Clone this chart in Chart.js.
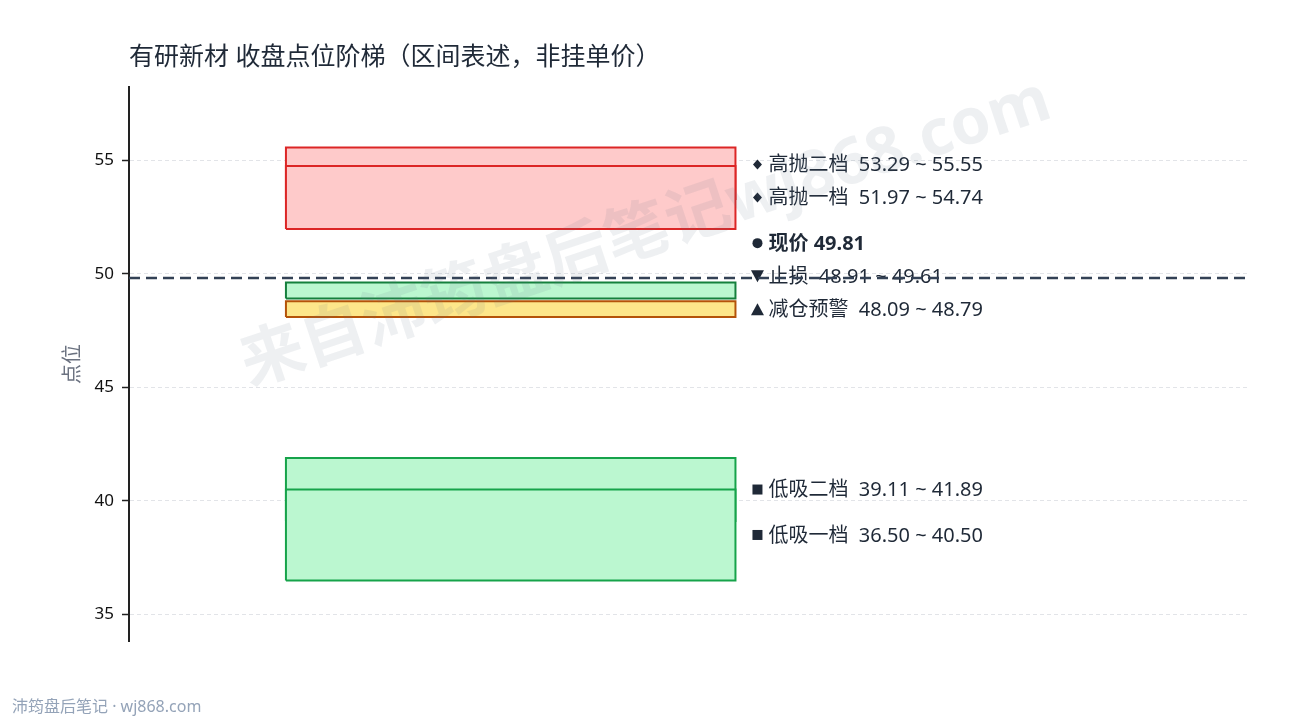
<!DOCTYPE html>
<html>
<head>
<meta charset="utf-8">
<script src="https://cdn.jsdelivr.net/npm/chart.js@4.4.1/dist/chart.umd.min.js"></script>
<style>
  html,body{margin:0;padding:0;background:#fff;}
  #wrap{width:1290px;height:720px;position:relative;}
</style>
</head>
<body>
<div id="wrap"><canvas id="c" width="1290" height="720"></canvas></div>
<script>
// ---- data ----
const bandNames   = ['高抛二档', '高抛一档', '止损', '减仓预警', '低吸二档', '低吸一档'];
const bandLow     = [53.29, 51.97, 48.91, 48.09, 39.11, 36.50];
const bandHigh    = [55.55, 54.74, 49.61, 48.79, 41.89, 40.50];
const bandKind    = ['sell', 'sell', 'stop', 'warn', 'buy', 'buy'];
const currentName = '现价';
const currentPrice = 49.81;
const yTicks = [35, 40, 45, 50, 55];

const titleText = '有研新材 收盘点位阶梯（区间表述，非挂单价）';
const yTitle = '点位';
const footerText = '沛筠盘后笔记 · wj868.com';
const watermarkText = '来自沛筠盘后笔记wj868.com';

// ---- styles ----
const kindStyle = {
  sell: {fill: '#fecaca', border: '#dc2626', marker: 'diamond'},
  stop: {fill: '#bbf7d0', border: '#15803d', marker: 'down'},
  warn: {fill: '#fde68a', border: '#b45309', marker: 'up'},
  buy:  {fill: '#bbf7d0', border: '#16a34a', marker: 'square'}
};
const BOX_X0 = 0.14, BOX_X1 = 0.541;
const FONT = '"Noto Sans", "Noto Sans CJK SC", sans-serif';
const TEXT_COLOR = '#1f2937';

const lo = Math.min(...bandLow), hi = Math.max(...bandHigh);
const pad = (hi - lo) * 0.14;

const datasets = bandNames.map((n, i) => {
  const st = kindStyle[bandKind[i]];
  return {
    label: n,
    data: [
      {x: BOX_X0, y: bandLow[i]}, {x: BOX_X0, y: bandHigh[i]},
      {x: BOX_X1, y: bandHigh[i]}, {x: BOX_X1, y: bandLow[i]},
      {x: BOX_X0, y: bandLow[i]}
    ],
    showLine: true,
    fill: 'shape',
    backgroundColor: st.fill,
    borderColor: st.border,
    borderWidth: 2,
    borderJoinStyle: 'miter',
    pointRadius: 0,
    tension: 0,
    order: 10 - i
  };
});
datasets.push({
  label: currentName,
  data: [{x: 0, y: currentPrice}, {x: 1, y: currentPrice}],
  showLine: true,
  fill: false,
  borderColor: '#334155',
  borderWidth: 2.5,
  borderDash: [11, 6],
  pointRadius: 0,
  order: 0
});

function drawMarker(ctx, type, cx, cy) {
  ctx.save();
  ctx.fillStyle = TEXT_COLOR;
  ctx.beginPath();
  if (type === 'diamond') {
    ctx.moveTo(cx, cy - 5); ctx.lineTo(cx + 4.5, cy); ctx.lineTo(cx, cy + 5); ctx.lineTo(cx - 4.5, cy);
  } else if (type === 'circle') {
    ctx.arc(cx, cy, 5, 0, Math.PI * 2);
  } else if (type === 'down') {
    ctx.moveTo(cx - 6.5, cy - 6); ctx.lineTo(cx + 6.5, cy - 6); ctx.lineTo(cx, cy + 6);
  } else if (type === 'up') {
    ctx.moveTo(cx - 6.5, cy + 6); ctx.lineTo(cx + 6.5, cy + 6); ctx.lineTo(cx, cy - 6);
  } else {
    ctx.rect(cx - 5, cy - 5, 10, 10);
  }
  ctx.closePath();
  ctx.fill();
  ctx.restore();
}

const decor = {
  id: 'decor',
  beforeDatasetsDraw(chart) {
    const {ctx, scales} = chart;
    const ys = scales.y, xs = scales.x;
    const items = bandNames.map((n, i) => ({
      text: n + '  ' + bandLow[i].toFixed(2) + ' ~ ' + bandHigh[i].toFixed(2),
      v: (bandLow[i] + bandHigh[i]) / 2,
      marker: kindStyle[bandKind[i]].marker,
      bold: false
    }));
    items.push({text: currentName + ' ' + currentPrice.toFixed(2), v: currentPrice, marker: 'circle', bold: true});
    items.forEach(it => it.y = ys.getPixelForValue(it.v));
    items.sort((a, b) => a.y - b.y);
    const gap = 33;
    for (let i = items.length - 2; i >= 0; i--) {
      if (items[i].y > items[i + 1].y - gap) items[i].y = items[i + 1].y - gap;
    }
    const xr = xs.getPixelForValue(BOX_X1);
    ctx.save();
    ctx.textBaseline = 'middle';
    ctx.textAlign = 'left';
    items.forEach(it => {
      drawMarker(ctx, it.marker, xr + 22, it.y);
      ctx.fillStyle = TEXT_COLOR;
      ctx.font = (it.bold ? 'bold ' : '') + '20px ' + FONT;
      ctx.fillText(it.text, xr + 33, it.y + 1);
    });
    ctx.restore();
  },
  afterDraw(chart) {
    const {ctx, chartArea} = chart;
    ctx.save();
    ctx.fillStyle = TEXT_COLOR;
    ctx.font = '25px ' + FONT;
    ctx.textBaseline = 'middle';
    ctx.textAlign = 'left';
    ctx.fillText(titleText, chartArea.left, 58);
    ctx.save();
    ctx.translate(73, (chartArea.top + chartArea.bottom) / 2);
    ctx.rotate(-Math.PI / 2);
    ctx.textAlign = 'center';
    ctx.fillStyle = '#6b7280';
    ctx.font = '20px ' + FONT;
    ctx.fillText(yTitle, 0, 0);
    ctx.restore();
    ctx.fillStyle = '#94a3b8';
    ctx.font = '16px ' + FONT;
    ctx.fillText(footerText, 12, 707);
    ctx.save();
    ctx.translate(646, 234);
    ctx.rotate(-18.5 * Math.PI / 180);
    ctx.textAlign = 'center';
    ctx.fillStyle = 'rgba(100,116,139,0.11)';
    ctx.font = 'bold 64px ' + FONT;
    ctx.fillText(watermarkText, 0, 0);
    ctx.restore();
    ctx.restore();
  }
};

new Chart(document.getElementById('c'), {
  type: 'scatter',
  data: {datasets},
  options: {
    responsive: false,
    animation: false,
    devicePixelRatio: 1,
    layout: {padding: {top: 87, bottom: 79, right: 40, left: 0}},
    plugins: {legend: {display: false}, tooltip: {enabled: false}, title: {display: false}},
    events: [],
    scales: {
      x: {type: 'linear', min: 0, max: 1, display: false},
      y: {
        type: 'linear',
        min: lo - pad,
        max: hi + pad,
        afterFit(s) { s.width = 129; },
        afterBuildTicks(s) { s.ticks = yTicks.map(v => ({value: v})); },
        ticks: {color: '#111', font: {family: FONT, size: 17}, padding: 8},
        grid: {color: '#e2e4e8', lineWidth: 1, tickLength: 7, tickColor: '#222', tickWidth: 1.5},
        border: {display: true, color: '#222', width: 2, dash: [4, 3]}
      }
    }
  },
  plugins: [decor]
});
</script>
</body>
</html>
